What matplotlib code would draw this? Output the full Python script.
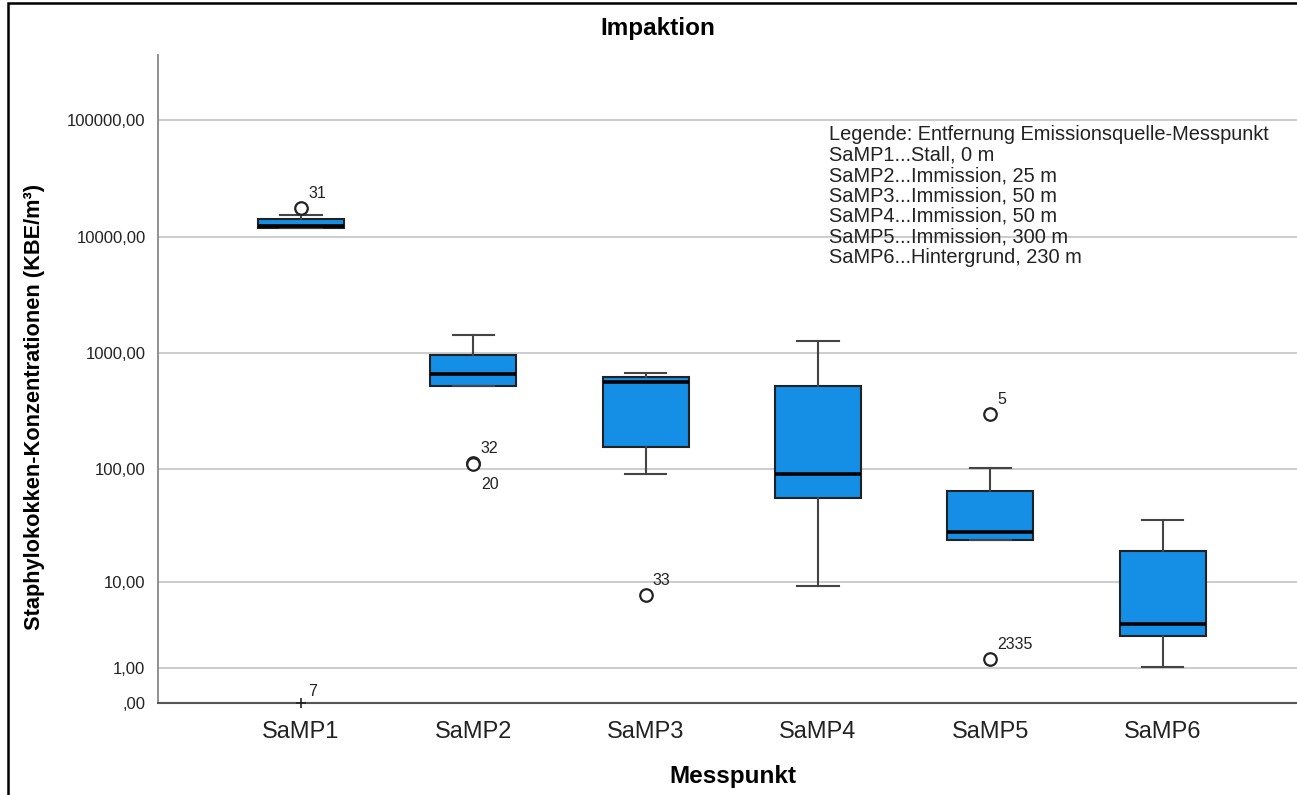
import numpy as np
import matplotlib
matplotlib.use("Agg")
import matplotlib.pyplot as plt
from matplotlib.patches import Rectangle

plt.rcParams['font.family'] = ['Liberation Sans', 'DejaVu Sans']

# box statistics (KBE/m3)
groups = ['SaMP1', 'SaMP2', 'SaMP3', 'SaMP4', 'SaMP5', 'SaMP6']
q1 = [11850, 523, 155, 56.6, 24.1, 2.76]
med = [12300, 659, 566, 91, 28.4, 3.76]
q3 = [14150, 959, 620, 523, 64.5, 19.1]
wlo = [11850, 523, 91, 9.14, 24.1, 1.05]
whi = [15310, 1432, 680, 1264, 102.6, 35.9]

# single cases: group index, value, case id, below?
out_grp = [0, 1, 1, 2, 4, 4]
out_val = [17590, 114, 111, 7.39, 298, 1.37]
out_lab = ['31', '32', '20', '33', '5', '2335']
out_below = [False, False, True, False, False, False]
ext_grp = [0]
ext_val = [0.0]
ext_lab = ['7']

yticks = [0, 1, 10, 100, 1000, 10000, 100000]
ytick_labels = [',00', '1,00', '10,00', '100,00', '1000,00', '10000,00', '100000,00']

legend_lines = ['Legende: Entfernung Emissionsquelle-Messpunkt',
                'SaMP1...Stall, 0 m',
                'SaMP2...Immission, 25 m',
                'SaMP3...Immission, 50 m',
                'SaMP4...Immission, 50 m',
                'SaMP5...Immission, 300 m',
                'SaMP6...Hintergrund, 230 m']

W, H = 1297, 795
fig = plt.figure(figsize=(W / 100, H / 100), dpi=100)
ax = fig.add_axes([158 / W, 1 - 703 / H, 1 - 158 / W, (703 - 55) / H])

def fwd(x):
    return np.log10(np.clip(x, 0, None) + 1)

def inv(y):
    return 10 ** y - 1

ax.set_yscale('function', functions=(fwd, inv))

pos = np.arange(1, len(groups) + 1)
stats = []
for i, g in enumerate(groups):
    stats.append(dict(label=g, med=med[i], q1=q1[i], q3=q3[i],
                      whislo=wlo[i], whishi=whi[i], fliers=[]))

ax.bxp(stats, positions=pos, widths=0.5, capwidths=0.24, patch_artist=True,
       showfliers=False,
       boxprops=dict(facecolor='#158ee6', edgecolor='#222222', linewidth=1.5),
       medianprops=dict(color='black', linewidth=2.6),
       whiskerprops=dict(color='#444444', linewidth=1.5),
       capprops=dict(color='#444444', linewidth=1.5),
       zorder=3)

ox = [pos[g] for g in out_grp]
ax.plot(ox, out_val, 'o', ms=9, mfc='white', mec='#222222', mew=1.6,
        zorder=4, clip_on=False)
for x, v, lab, below in zip(ox, out_val, out_lab, out_below):
    if below:
        ax.annotate(lab, (x, v), xytext=(6, -9), textcoords='offset points',
                    fontsize=11.5, va='top', ha='left', color='#222222')
    else:
        ax.annotate(lab, (x, v), xytext=(5, 5), textcoords='offset points',
                    fontsize=11.5, va='bottom', ha='left', color='#222222')

ex = [pos[g] for g in ext_grp]
ax.plot(ex, ext_val, marker='+', ms=7, color='#222222', mew=1.2,
        ls='none', zorder=4, clip_on=False)
for x, v, lab in zip(ex, ext_val, ext_lab):
    ax.annotate(lab, (x, v), xytext=(5, 3), textcoords='offset points',
                fontsize=11.5, va='bottom', ha='left', color='#222222')

ax.set_xlim(0.17, 6.78)
ax.set_ylim(0, 361000)
ax.set_yticks(yticks)
ax.set_yticklabels(ytick_labels)
ax.yaxis.set_minor_locator(matplotlib.ticker.NullLocator())
ax.set_xticks(pos)
ax.set_xticklabels(groups)
ax.tick_params(axis='y', length=0, pad=9, labelsize=12, labelcolor='#222222')
ax.tick_params(axis='x', length=0, pad=13, labelsize=17, labelcolor='#222222')
ax.grid(axis='y', color='#c8c8c8', linewidth=1.3, zorder=0)
ax.set_axisbelow(True)
for s in ['top', 'right']:
    ax.spines[s].set_visible(False)
ax.spines['left'].set_color('#888888')
ax.spines['left'].set_linewidth(1.3)
ax.spines['bottom'].set_color('#555555')
ax.spines['bottom'].set_linewidth(1.5)

fig.text(658 / W, 1 - 28 / H, 'Impaktion', ha='center', va='center',
         fontsize=17.5, fontweight='bold')
fig.text(733 / W, 1 - 776 / H, 'Messpunkt', ha='center', va='center',
         fontsize=17.5, fontweight='bold')
fig.text(35 / W, 1 - 407 / H, 'Staphylokokken-Konzentrationen (KBE/m³)',
         ha='center', va='center', rotation=90, fontsize=15.7,
         fontweight='bold')
fig.text(829 / W, 1 - 125 / H, '\n'.join(legend_lines), ha='left', va='top',
         fontsize=14.4, linespacing=1.1, color='#222222')

# outer frame of the exported picture
fig.add_artist(Rectangle((8 / W, -0.02), 1.02, 1.02 - 2.5 / H,
                         transform=fig.transFigure, fill=False,
                         edgecolor='black', linewidth=1.8))

fig.savefig('out.png', dpi=100)
